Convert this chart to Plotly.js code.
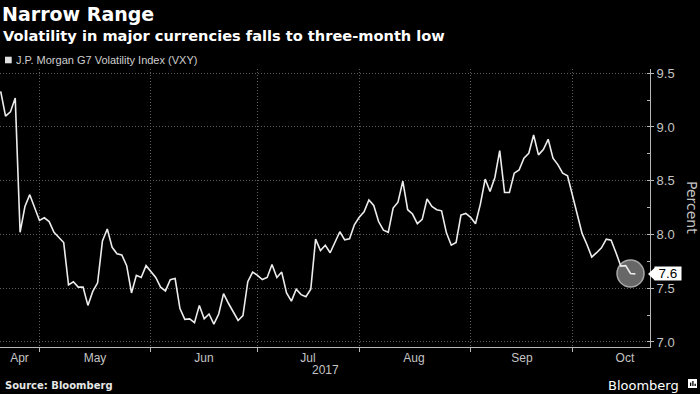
<!DOCTYPE html>
<html><head><meta charset="utf-8">
<script src="https://cdn.plot.ly/plotly-3.0.1.min.js"></script>
<style>html,body{margin:0;padding:0;background:#000;}#chart{width:700px;height:394px;}</style>
</head><body><div id="chart"></div>
<script>
// Trading days (weekdays) shown in the chart, 2017
const aprDays = [19,20,21,24,25,26,27,28];
const mayDays = [1,2,3,4,5,8,9,10,11,12,15,16,17,18,19,22,23,24,25,26,29,30,31];
const junDays = [1,2,5,6,7,8,9,12,13,14,15,16,19,20,21,22,23,26,27,28,29,30];
const julDays = [3,4,5,6,7,10,11,12,13,14,17,18,19,20,21,24,25,26,27,28,31];
const augDays = [1,2,3,4,7,8,9,10,11,14,15,16,17,18,21,22,23,24,25,28,29,30,31];
const sepDays = [1,4,5,6,7,8,11,12,13,14,15,18,19,20,21,22,25,26,27,28,29];
const octDays = [2,3,4,5,6,9,10,11,12,13,16,17,18,19];

// J.P. Morgan G7 Volatility Index (VXY), percent
const vxyApr = [9.33,9.10,9.14,9.27,8.02,8.26,8.37,8.24];
const vxyMay = [8.13,8.155,8.12,8.02,7.97,7.925,7.53,7.56,7.51,7.51,7.34,7.47,7.55,7.94,8.05,7.88,7.82,7.81,7.71,7.456,7.62,7.60,7.71];
const vxyJun = [7.65,7.60,7.51,7.475,7.58,7.59,7.31,7.21,7.215,7.18,7.34,7.215,7.26,7.165,7.26,7.45,7.36,7.28,7.20,7.245,7.56,7.65];
const vxyJul = [7.62,7.58,7.60,7.72,7.60,7.65,7.455,7.38,7.49,7.44,7.42,7.49,7.956,7.85,7.90,7.83,7.925,8.025,7.95,7.96,8.09];
const vxyAug = [8.16,8.21,8.32,8.27,8.12,8.04,8.02,8.245,8.30,8.496,8.23,8.19,8.10,8.14,8.33,8.26,8.23,8.22,8.015,7.90,7.925,8.18,8.195];
const vxySep = [8.16,8.10,8.28,8.515,8.40,8.53,8.78,8.39,8.39,8.57,8.60,8.71,8.755,8.925,8.74,8.79,8.885,8.71,8.65,8.57,8.545];
const vxyOct = [8.37,8.20,8.01,7.907,7.79,7.83,7.875,7.956,7.947,7.83,7.705,7.71,7.637,7.633];

const monthStarts = ['2017-05-01','2017-06-01','2017-07-03','2017-08-01','2017-09-01','2017-10-02'];
const monthLabelPos = ['2017-04-24 21:00','2017-05-16 11:00','2017-06-15 23:00','2017-07-17 10:00','2017-08-16 07:00','2017-09-15 14:00','2017-10-16 20:00'];
const monthLabels = ['Apr','May','Jun','Jul','Aug','Sep','Oct'];
const yearLabel = '2017';
const seriesName = 'J.P. Morgan G7 Volatility Index (VXY)';

const pad = d => (d < 10 ? '0' : '') + d;
const mk = (m, days) => days.map(d => '2017-' + m + '-' + pad(d));
const dates = [].concat(mk('04',aprDays), mk('05',mayDays), mk('06',junDays), mk('07',julDays), mk('08',augDays), mk('09',sepDays), mk('10',octDays));
const vxy = [].concat(vxyApr, vxyMay, vxyJun, vxyJul, vxyAug, vxySep, vxyOct);
const n = vxy.length;
const lastVal = vxy[n-1];

const grey = '#c4c4c4';
const axisCol = '#b8b8b8';
const gridCol = '#5e5e5e';
const gridDash = '1px,2px';

const traces = [
  {x:[dates[n-2]], y:[vxy[n-2]], type:'scatter', mode:'markers', hoverinfo:'skip', showlegend:false,
   marker:{size:27, color:'#676767', line:{color:'#a8a8a8', width:1.5}}},
  {x:dates, y:vxy, type:'scatter', mode:'lines', name:seriesName, showlegend:false,
   line:{color:'#ececec', width:1.6}}
];

const layout = {
  width:700, height:394,
  paper_bgcolor:'#000', plot_bgcolor:'#000',
  margin:{l:0, r:50, t:69, b:47, pad:0},
  showlegend:false,
  title:{text:'<b>Narrow Range</b>', x:0.003, xref:'container', xanchor:'left', y:0.9645, yref:'container', yanchor:'middle',
         font:{family:'DejaVu Sans', size:19, color:'#ffffff'}},
  xaxis:{
    type:'date', range:['2017-04-18 20:30','2017-10-24 00:30'],
    rangebreaks:[{bounds:['sat','mon']}],
    tickmode:'array', tickvals:monthLabelPos, ticktext:monthLabels,
    ticks:'', showgrid:false, zeroline:false,
    showline:true, linecolor:axisCol, linewidth:1,
    tickfont:{family:'Liberation Sans', size:12, color:grey},
    minor:{tickmode:'array', tickvals:monthStarts, ticks:'outside', ticklen:4, tickcolor:axisCol,
           showgrid:true, gridcolor:gridCol, griddash:gridDash, gridwidth:1}
  },
  yaxis:{
    side:'right', range:[6.953, 9.539],
    tickmode:'linear', tick0:7, dtick:0.5, tickformat:'.1f',
    ticks:'outside', ticklen:3, tickcolor:axisCol,
    showline:true, linecolor:axisCol, linewidth:1,
    showgrid:true, gridcolor:gridCol, griddash:gridDash, gridwidth:1, zeroline:false,
    tickfont:{family:'Liberation Sans', size:13, color:grey},
    minor:{tick0:7, dtick:0.25, ticks:'inside', ticklen:3, tickcolor:axisCol, showgrid:false}
  },
  annotations:[
    {text:'<b>Volatility in major currencies falls to three-month low</b>', xref:'paper', yref:'paper', x:0, xshift:1, y:1.1223,
     xanchor:'left', yanchor:'middle', showarrow:false, font:{family:'DejaVu Sans', size:14.6, color:'#ffffff'}},
    {text:seriesName, xref:'paper', yref:'paper', x:0.0215, y:1.0324, xanchor:'left', yanchor:'middle', showarrow:false,
     font:{family:'Liberation Sans', size:11, color:'#cfcfcf'}},
    {text:'Percent', xref:'paper', yref:'paper', x:1.0646, y:0.5, xanchor:'center', yanchor:'middle', textangle:90, showarrow:false,
     font:{family:'DejaVu Sans', size:14, color:grey}},
    {text:yearLabel, xref:'paper', yref:'paper', x:0.5, y:-0.0827, xanchor:'center', yanchor:'middle', showarrow:false,
     font:{family:'Liberation Sans', size:12, color:grey}},
    {text:'<b>Source: Bloomberg</b>', xref:'paper', yref:'paper', x:0, xshift:3, y:-0.1367, xanchor:'left', yanchor:'middle', showarrow:false,
     font:{family:'DejaVu Sans', size:10, color:'#e6e6e6'}},
    {text:'Bloomberg', xref:'paper', yref:'paper', x:1.0477, y:-0.1367, xanchor:'right', yanchor:'middle', showarrow:false,
     font:{family:'DejaVu Sans', size:13, color:'#ffffff'}},
    {text:lastVal.toFixed(1), xref:'paper', yref:'y', x:1, xshift:4, y:lastVal, xanchor:'left', yanchor:'middle', showarrow:false,
     bgcolor:'#ffffff', width:26, height:13, borderpad:0, font:{family:'Liberation Sans', size:13.5, color:'#000000'}}
  ],
  shapes:[
    {type:'path', xref:'paper', xsizemode:'pixel', xanchor:1, yref:'y', ysizemode:'pixel', yanchor:lastVal,
     path:'M -2,0 L 5,6.5 L 5,-6.5 Z', fillcolor:'#ffffff', line:{width:0}},
    {type:'rect', xref:'paper', yref:'paper', x0:0.0077, x1:0.018, y0:1.0205, y1:1.0442, fillcolor:'#e0e0e0', line:{width:0}},
    {type:'rect', xref:'paper', yref:'paper', x0:1.0585, x1:1.0723, y0:-0.1475, y1:-0.1151, fillcolor:'#ffffff', line:{width:0}},
    {type:'rect', xref:'paper', yref:'paper', x0:1.0615, x1:1.0635, y0:-0.140, y1:-0.128, fillcolor:'#000000', line:{width:0}},
    {type:'rect', xref:'paper', yref:'paper', x0:1.0650, x1:1.0670, y0:-0.140, y1:-0.122, fillcolor:'#000000', line:{width:0}},
    {type:'rect', xref:'paper', yref:'paper', x0:1.0685, x1:1.0705, y0:-0.140, y1:-0.132, fillcolor:'#000000', line:{width:0}}
  ]
};

Plotly.newPlot('chart', traces, layout, {displayModeBar:false, staticPlot:true});
</script>
</body></html>
